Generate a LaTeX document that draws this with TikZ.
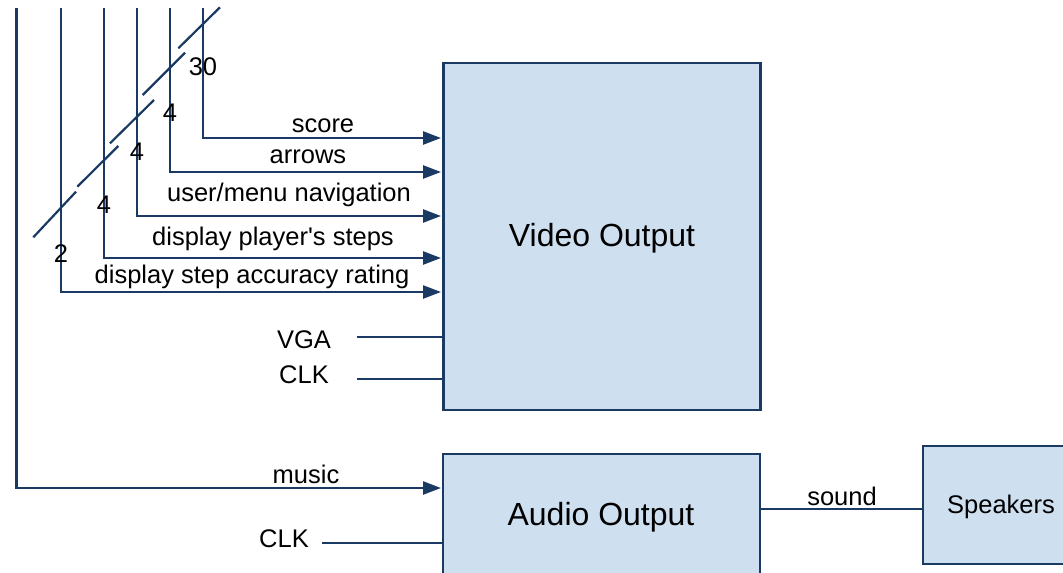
\documentclass[tikz,border=0pt]{standalone}
\usepackage{fontspec}
\setmainfont{Liberation Sans}
\usetikzlibrary{arrows.meta}
\definecolor{navy}{RGB}{26,58,100}
\definecolor{boxfill}{RGB}{206,223,240}
\begin{document}
\begin{tikzpicture}[x=1pt,y=-1pt,
  wire/.style={draw=navy,line width=2.4pt},
  sig/.style={wire,-{Triangle[length=18pt,width=13pt]}},
  slash/.style={draw=navy,line width=2.2pt},
  blk/.style={draw=navy,fill=boxfill,line width=2.6pt,inner sep=0pt},
  lbl/.style={inner sep=0pt,font=\fontsize{25.5}{30}\selectfont},
  big/.style={inner sep=0pt,font=\fontsize{32}{38}\selectfont}]
\useasboundingbox (0,0) rectangle (1063,573);
\fill[white] (0,0) rectangle (1063,573);

% blocks
\node[blk,minimum width=317pt,minimum height=347pt] (video) at (602,236.5) {};
\node[blk,minimum width=317pt,minimum height=124pt] (audio) at (601.5,516) {};
\node[blk,minimum width=156pt,minimum height=118pt] (spk) at (1001,505) {};
\node[big] (videot) at (602,238.5) {Video Output};
\node[big] (audiot) at (601,517) {Audio Output};
\node[lbl] (spkt) at (1001,506.5) {Speakers};

% bus tops
\coordinate (b0) at (16.5,8);
\coordinate (b1) at (61,8);
\coordinate (b2) at (104,8);
\coordinate (b3) at (137,8);
\coordinate (b4) at (170,8);
\coordinate (b5) at (203,8);

% arrow targets
\coordinate (t5) at (441,138);
\coordinate (t4) at (441,172);
\coordinate (t3) at (441,216);
\coordinate (t2) at (441,258);
\coordinate (t1) at (441,292);
\coordinate (t0) at (441,488);

\draw[sig] (b5) |- (t5);
\draw[sig] (b4) |- (t4);
\draw[sig] (b3) |- (t3);
\draw[sig] (b2) |- (t2);
\draw[sig] (b1) |- (t1);
\draw[sig] (b0) |- (t0);

% bus width slashes
\draw[slash] (33.3,237.3) -- (76,191.7);
\draw[slash] (77.3,186.7) -- (118.3,146);
\draw[slash] (110,143.3) -- (154,100);
\draw[slash] (142.7,95) -- (185,52.7);
\draw[slash] (178.3,48.3) -- (220,7.3);

\node[lbl] (w1) at (61,254) {2};
\node[lbl] (w2) at (104,205) {4};
\node[lbl] (w3) at (137,152) {4};
\node[lbl] (w4) at (170,113) {4};
\node[lbl] (w5) at (203,67) {30};

% signal labels
\node[lbl] (l5) at (323,126) {score};
\node[lbl] (l4) at (308,157) {arrows};
\node[lbl] (l3) at (289,195) {user/menu navigation};
\node[lbl] (l2) at (273,239) {display player\textquotesingle s steps};
\node[lbl] (l1) at (252,277) {display step accuracy rating};
\node[lbl] (l0) at (306,474) {music};

% VGA / CLK inputs
\node[lbl] (vga) at (304,340) {VGA};
\node[lbl] (clk1) at (304,375) {CLK};
\node[lbl] (clk2) at (284,539) {CLK};
\coordinate (vgas) at (357,337);
\coordinate (vgae) at (443,337);
\coordinate (clk1s) at (357,379);
\coordinate (clk1e) at (443,379);
\coordinate (clk2s) at (322,543);
\coordinate (clk2e) at (443,543);
\draw[wire] (vgas) -- (vgae);
\draw[wire] (clk1s) -- (clk1e);
\draw[wire] (clk2s) -- (clk2e);

% sound
\coordinate (snds) at (760,509);
\coordinate (snde) at (923,509);
\draw[wire] (snds) -- (snde);
\node[lbl] (snd) at (842,496) {sound};
\end{tikzpicture}
\end{document}
